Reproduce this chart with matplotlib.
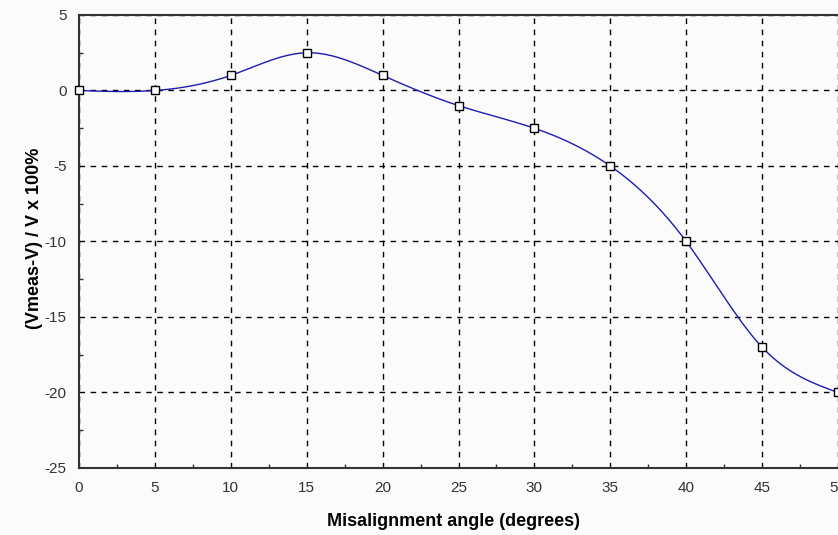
import numpy as np
import matplotlib
matplotlib.use('Agg')
from matplotlib import pyplot as plt
from matplotlib.ticker import MultipleLocator

angle = [0, 5, 10, 15, 20, 25, 30, 35, 40, 45, 50]
error_pct = [0, 0, 1, 2.5, 1, -1, -2.5, -5, -10, -17, -20]


def natural_spline(x, y, xs):
    ''' natural cubic spline through (x, y), evaluated at xs '''
    x = np.asarray(x, float)
    y = np.asarray(y, float)
    n = len(x)
    h = np.diff(x)
    A = np.zeros((n, n))
    r = np.zeros(n)
    A[0, 0] = A[-1, -1] = 1
    for i in range(1, n - 1):
        A[i, i - 1] = h[i - 1]
        A[i, i] = 2 * (h[i - 1] + h[i])
        A[i, i + 1] = h[i]
        r[i] = 6 * ((y[i + 1] - y[i]) / h[i] - (y[i] - y[i - 1]) / h[i - 1])
    m = np.linalg.solve(A, r)  # second derivatives
    k = np.clip(np.searchsorted(x, xs) - 1, 0, n - 2)
    t0 = x[k + 1] - xs
    t1 = xs - x[k]
    hk = h[k]
    return (m[k] * t0 ** 3 / (6 * hk) + m[k + 1] * t1 ** 3 / (6 * hk)
            + (y[k] / hk - m[k] * hk / 6) * t0
            + (y[k + 1] / hk - m[k + 1] * hk / 6) * t1)


plt.rcParams['font.family'] = ['Liberation Sans', 'DejaVu Sans']
plt.rcParams['axes.unicode_minus'] = False

fig = plt.figure(figsize=(8.38, 5.35), dpi=100, facecolor='#fbfbfb')
ax = fig.add_axes([79 / 838, 67 / 535, 1 - 79 / 838, 453 / 535])
ax.set_facecolor('#fbfbfb')

xs = np.linspace(angle[0], angle[-1], 400)
ax.plot(xs, natural_spline(angle, error_pct, xs), color='#1c1cb0', lw=1.0, zorder=3)
ax.plot(angle, error_pct, ls='none', marker='s', ms=5.5, mfc='white', mec='black',
        mew=1.0, zorder=4, clip_on=False)

ax.set_xlim(0, 50)
ax.set_ylim(-25, 5)
ax.xaxis.set_major_locator(MultipleLocator(5))
ax.yaxis.set_major_locator(MultipleLocator(5))
ax.xaxis.set_minor_locator(MultipleLocator(2.5))
ax.yaxis.set_minor_locator(MultipleLocator(2.5))
ax.tick_params(which='major', length=0, pad=9, labelsize=11, labelcolor='#333333')
ax.tick_params(which='minor', direction='in', length=3, width=1, color='#333333')
ax.grid(True, which='major', color='black', ls=(0, (4, 4)), lw=1.0)

for side in ['left', 'bottom', 'top']:
    ax.spines[side].set_linewidth(1.5)
    ax.spines[side].set_color('#333333')
ax.spines['right'].set_visible(False)

ax.set_xlabel('Misalignment angle (degrees)', fontsize=13, fontweight='bold', va='center')
ax.set_ylabel('(Vmeas-V) / V x 100%', fontsize=13, fontweight='bold', va='center')
ax.xaxis.set_label_coords(0.494, -0.118)
ax.yaxis.set_label_coords(-0.058, 0.507)

fig.savefig('out.png', dpi=100, facecolor=fig.get_facecolor())
